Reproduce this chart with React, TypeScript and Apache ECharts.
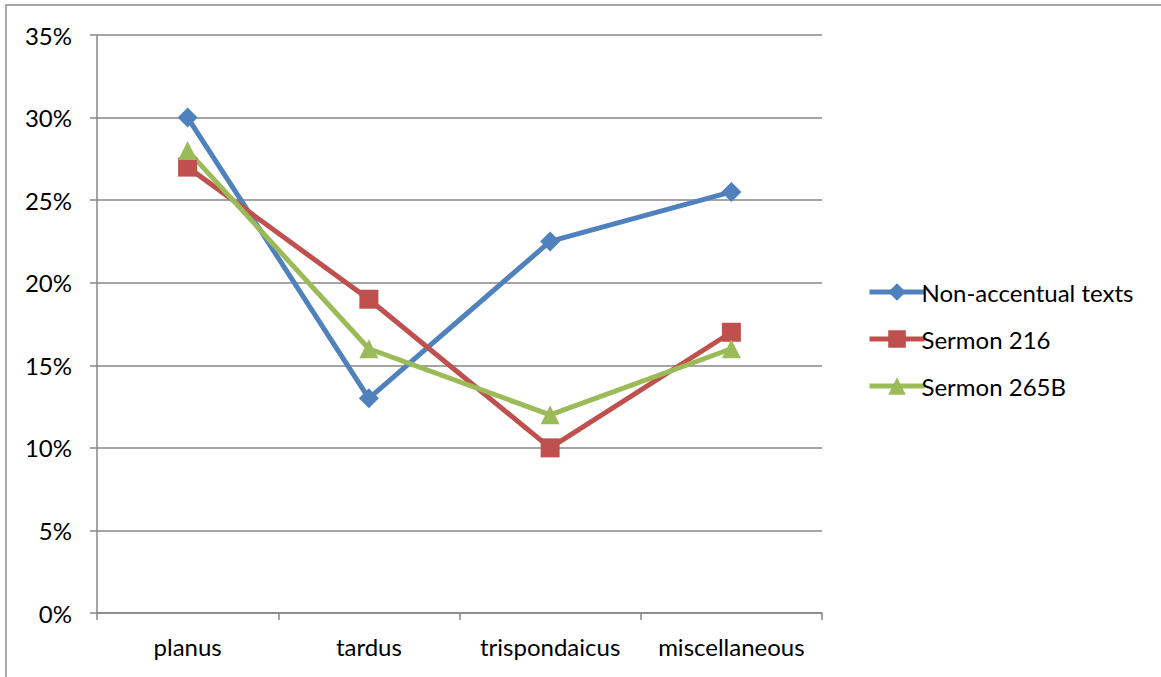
import React, { useEffect, useRef } from "react";
import * as echarts from "echarts";

const categories = ["planus", "tardus", "trispondaicus", "miscellaneous"];
const nonAccentual = [30, 13, 22.5, 25.5];
const sermon216 = [27, 19, 10, 17];
const sermon265B = [28, 16, 12, 16];
const seriesNames = ["Non-accentual texts", "Sermon 216", "Sermon 265B"];

const FONT = "Lato, 'Open Sans', sans-serif";

export default function App() {
  const ref = useRef<HTMLDivElement>(null);
  useEffect(() => {
    document.body.style.margin = "0";
    if (!ref.current) return;
    const chart = echarts.init(ref.current, undefined, { renderer: "svg" });
    const mk = (name: string, data: number[], color: string, symbol: string, size: number) => ({
      name,
      type: "line",
      data,
      symbol,
      symbolSize: size,
      lineStyle: { color, width: 5 },
      itemStyle: { color },
      z: 3,
    });
    chart.setOption({
      animation: false,
      backgroundColor: "#ffffff",
      textStyle: { fontFamily: FONT },
      graphic: [
        {
          type: "rect",
          shape: { x: 6, y: 5, width: 1200, height: 720 },
          style: { fill: "none", stroke: "#8c8c8c", lineWidth: 1.5 },
          silent: true,
        },
      ],
      grid: { left: 97, top: 35, width: 725, height: 578, containLabel: false },
      legend: {
        orient: "vertical",
        left: 862,
        top: 275,
        itemWidth: 55,
        itemHeight: 22,
        itemGap: 23,
        lineStyle: { width: 5 },
        textStyle: { fontSize: 24, color: "#000", fontFamily: FONT, padding: [0, 0, 0, -8] },
        data: seriesNames,
      },
      xAxis: {
        type: "category",
        data: categories,
        boundaryGap: true,
        axisLine: { lineStyle: { color: "#868686", width: 1.5 } },
        axisTick: { show: true, length: 7, alignWithLabel: false, lineStyle: { color: "#868686", width: 1.5 } },
        axisLabel: { fontSize: 24, color: "#000", margin: 21, fontFamily: FONT, interval: 0 },
        splitLine: { show: false },
      },
      yAxis: {
        type: "value",
        min: 0,
        max: 35,
        interval: 5,
        axisLine: { show: true, lineStyle: { color: "#868686", width: 1.5 } },
        axisTick: { show: true, length: 7, lineStyle: { color: "#868686", width: 1.5 } },
        axisLabel: { fontSize: 24, color: "#000", margin: 25, formatter: "{value}%", fontFamily: FONT },
        splitLine: { show: true, lineStyle: { color: "#868686", width: 1.5 } },
      },
      series: [
        mk(seriesNames[0], nonAccentual, "#4F81BD", "diamond", 20),
        mk(seriesNames[1], sermon216, "#C0504D", "rect", 19),
        mk(seriesNames[2], sermon265B, "#9BBB59", "triangle", 19),
      ],
    });
    return () => chart.dispose();
  }, []);
  return <div ref={ref} style={{ width: 1161, height: 677 }} />;
}
